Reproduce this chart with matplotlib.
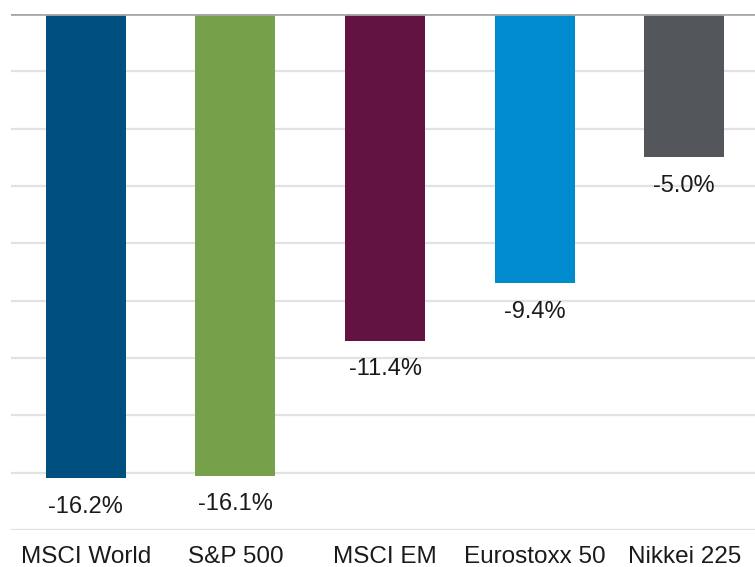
import matplotlib
matplotlib.use("Agg")
import matplotlib.pyplot as plt
import numpy as np

plt.rcParams['font.family'] = ['Liberation Sans', 'DejaVu Sans']

categories = ["MSCI World", "S&P 500", "MSCI EM", "Eurostoxx 50", "Nikkei 225"]
values = [-16.2, -16.1, -11.4, -9.4, -5.0]
labels = ["-16.2%", "-16.1%", "-11.4%", "-9.4%", "-5.0%"]
colors = ["#00507F", "#77A04A", "#621341", "#008BCE", "#53565A"]
yticks = [0, -2, -4, -6, -8, -10, -12, -14, -16, -18]

fig = plt.figure(figsize=(7.55, 5.67), dpi=100)
W, H = 755, 567
left, right, top, bottom = 11, 759, 14, 530
ax = fig.add_axes([left / W, (H - bottom) / H, (right - left) / W, (bottom - top) / H])

x = np.arange(len(categories))
ax.bar(x, values, width=0.535, color=colors, zorder=3)

for xi, v, lab in zip(x, values, labels):
    ax.annotate(lab, (xi, v), xytext=(0, -20.5), textcoords="offset points",
                ha="center", va="center", fontsize=17, color="#1a1a1a")

ax.set_xlim(-0.5, len(categories) - 0.5)
ax.set_ylim(-18, 0)
ax.set_yticks(yticks)
ax.yaxis.grid(True, color="#E2E2E2", linewidth=1.6, zorder=0)
ax.axhline(0, color="#A8A8A8", linewidth=2, zorder=4)
ax.tick_params(axis="y", left=False, labelleft=False)
ax.set_xticks(x)
ax.set_xticklabels(categories, fontsize=17.5, color="#1a1a1a")
ax.tick_params(axis="x", bottom=False, pad=8)
for s in ax.spines.values():
    s.set_visible(False)

fig.savefig("out.png", dpi=100)
